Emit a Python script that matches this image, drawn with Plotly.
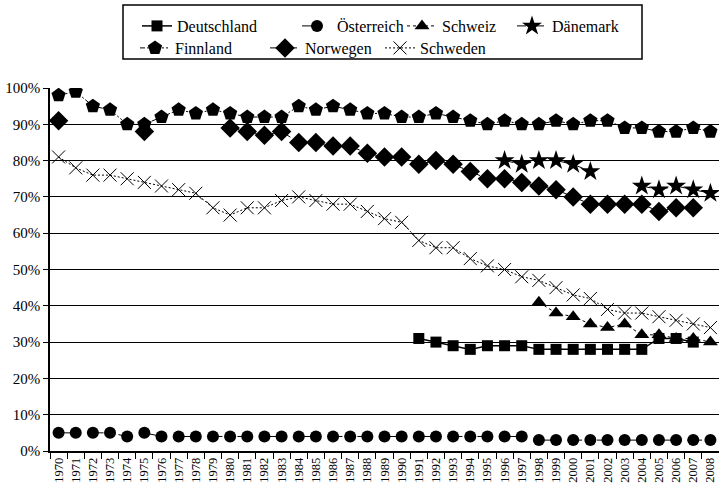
import plotly.graph_objects as go

years = [str(y) for y in range(1970, 2009)]
N = None

deutschland = [N]*21 + [31, 30, 29, 28, 29, 29, 29, 28, 28, 28, 28, 28, 28, 28, 31, 31, 30, N]
oesterreich = [5, 5, 5, 5, 4, 5] + [4]*22 + [3]*11
schweiz = [N]*28 + [41, 38, 37, 35, 34, 35, 32, 32, 31, 31, 30]
daenemark = [N]*26 + [80, 79, 80, 80, 79, 77, N, N, 73, 72, 73, 72, 71]
finnland = [98, 99, 95, 94, 90, 90, 92, 94, 93, 94,
            93, 92, 92, 92, 95, 94, 95, 94, 93, 93,
            92, 92, 93, 92, 91, 90, 91, 90, 90, 91,
            90, 91, 91, 89, 89, 88, 88, 89, 88]
norwegen = [91, N, N, N, N, 88, N, N, N, N,
            89, 88, 87, 88, 85, 85, 84, 84, 82, 81,
            81, 79, 80, 79, 77, 75, 75, 74, 73, 72,
            70, 68, 68, 68, 68, 66, 67, 67, N]
schweden = [81, 78, 76, 76, 75, 74, 73, 72, 71, 67,
            65, 67, 67, 69, 70, 69, 68, 68, 66, 64,
            63, 58, 56, 56, 53, 51, 50, 48, 47, 45,
            43, 42, 39, 38, 38, 37, 36, 35, 34]
y_ticks = list(range(0, 101, 10))
y_labels = [f"{v}%" for v in y_ticks]

W, H = 719, 495
L, R, T, B = 50, 0, 88, 44
PW, PH = W - L - R, H - T - B

def px(x):
    return (x - L) / PW

def py(y):
    return (H - B - y) / PH

def cx(x):
    return x / W

def cy(y):
    return 1 - y / H

FONT = "Liberation Serif"
ROW1, ROW2 = 26, 48

series = [
    ("Deutschland", deutschland, "square", 11, "solid", 1.5, 137, ROW1, "legend"),
    ("Österreich", oesterreich, "circle", 12, "longdash", 1, 297, ROW1, "legend2"),
    ("Schweiz", schweiz, "triangle-up", 13, "dot", 1, 402, ROW1, "legend3"),
    ("Dänemark", daenemark, "star", 15, "dashdot", 1, 512, ROW1, "legend4"),
    ("Finnland", finnland, "pentagon", 15, "5px,2px,2px,2px,2px,2px", 1, 135, ROW2, "legend5"),
    ("Norwegen", norwegen, "diamond", 15, "dash", 1, 265, ROW2, "legend6"),
    ("Schweden", schweden, "x-thin-open", 13, "2px,2px", 1, 380, ROW2, "legend7"),
]

fig = go.Figure()
legends = {}
for name, vals, sym, size, dash, lw, lx, ly, lg in series:
    marker = dict(symbol=sym, size=size, color="black")
    if sym == "x-thin-open":
        marker["line"] = dict(color="black", width=1)
    else:
        marker["line"] = dict(width=0)
    fig.add_trace(go.Scatter(
        x=years, y=vals, name=name, mode="lines+markers",
        line=dict(color="black", width=lw, dash=dash),
        marker=marker, connectgaps=False, legend=lg,
    ))
    legends[lg] = dict(
        x=cx(lx), y=cy(ly), xref="container", yref="container",
        xanchor="left", yanchor="middle",
        orientation="h", bgcolor="rgba(0,0,0,0)", borderwidth=0,
        font=dict(family=FONT, size=16, color="black"),
    )

fig.add_shape(type="rect", xref="paper", yref="paper",
              x0=px(123), x1=px(642), y0=py(59), y1=py(5),
              line=dict(color="black", width=1.5), fillcolor="rgba(0,0,0,0)")

fig.update_layout(
    width=W, height=H,
    margin=dict(l=L, r=R, t=T, b=B, pad=0, autoexpand=False),
    paper_bgcolor="white", plot_bgcolor="white",
    font=dict(family=FONT, color="black"),
    showlegend=True,
    **legends,
)
fig.update_xaxes(
    type="category", categoryorder="array", categoryarray=years,
    range=[-0.5, len(years) - 0.5],
    tickmode="array", tickvals=years, ticktext=years,
    tickson="boundaries", ticks="outside", ticklen=6, tickcolor="black",
    showline=True, linecolor="black", linewidth=1.5,
    showgrid=False, tickangle=-90, automargin=False,
    tickfont=dict(family=FONT, size=12.5, color="black"),
)
fig.update_yaxes(
    range=[0, 100], tickmode="array", tickvals=y_ticks, ticktext=y_labels,
    ticks="outside", ticklen=5, tickcolor="black",
    showline=True, linecolor="black", linewidth=1.5,
    showgrid=True, gridcolor="black", gridwidth=1, zeroline=False,
    automargin=False,
    tickfont=dict(family=FONT, size=15, color="black"),
)

fig.write_html(
    "out.html",
    config={"displayModeBar": False},
    post_script="document.body.style.margin='0';document.body.style.overflow='hidden';",
)
